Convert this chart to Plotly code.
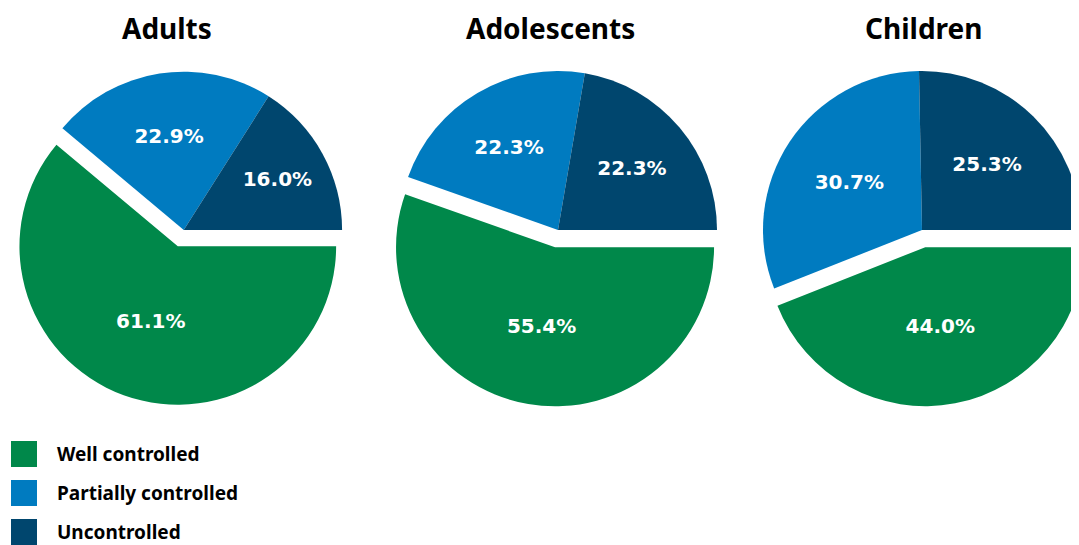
import plotly.graph_objects as go

# ---- data ----
groups = ["Adults", "Adolescents", "Children"]
categories = ["Well controlled", "Partially controlled", "Uncontrolled"]
adults = [61.1, 22.9, 16.0]
adolescents = [55.4, 22.3, 22.3]
children = [44.0, 30.7, 25.3]
colors = ["#00884A", "#007BC0", "#00466E"]

values = [adults, adolescents, children]

# page body adds an 8px offset; work in screen pixels and convert
OFF = 8
W, H = 1100, 537
TITLE_FONT = "Noto Sans"
LABEL_FONT = "DejaVu Sans"


def px(x):
    return (x - OFF) / W


def py(y):
    return 1 - (y - OFF) / H


# pie boxes (screen pixels)
centers = [183, 558, 922]
cy_pie = 230
half = 176.5
title_x = [167, 550, 923]

fig = go.Figure()
for i, (g, vals) in enumerate(zip(groups, values)):
    fig.add_trace(go.Pie(
        labels=categories,
        values=vals,
        marker=dict(colors=colors, line=dict(width=0)),
        sort=False,
        direction="clockwise",
        rotation=90,
        pull=[0.11, 0, 0],
        texttemplate="%{value:.1f}%",
        textposition="inside",
        insidetextorientation="horizontal",
        textfont=dict(family=LABEL_FONT, size=20, color="white", weight="bold"),
        domain=dict(x=[max(0, px(centers[i] - half)), min(1, px(centers[i] + half))],
                    y=[py(cy_pie + half), py(cy_pie - half)]),
        showlegend=False,
        hoverinfo="label+value",
        name=g,
    ))
    fig.add_annotation(
        text=f"<b>{g}</b>", x=px(title_x[i]), y=py(28),
        xref="paper", yref="paper", showarrow=False,
        xanchor="center", yanchor="middle",
        font=dict(family=TITLE_FONT, size=28, color="black"),
    )

# legend
for i, (cat, col) in enumerate(zip(categories, colors)):
    cy = 454 + 39 * i
    fig.add_shape(type="rect", xref="paper", yref="paper",
                  x0=px(11), x1=px(37), y0=py(cy + 13), y1=py(cy - 13),
                  fillcolor=col, line=dict(width=0))
    fig.add_annotation(text=f"<b>{cat}</b>", x=px(55), y=py(cy),
                       xref="paper", yref="paper", showarrow=False,
                       xanchor="left", yanchor="middle",
                       font=dict(family=TITLE_FONT, size=19, color="black"))

fig.update_layout(
    width=W, height=H,
    margin=dict(l=0, r=0, t=0, b=0),
    paper_bgcolor="white", plot_bgcolor="white",
)

fig.write_html("out.html")
